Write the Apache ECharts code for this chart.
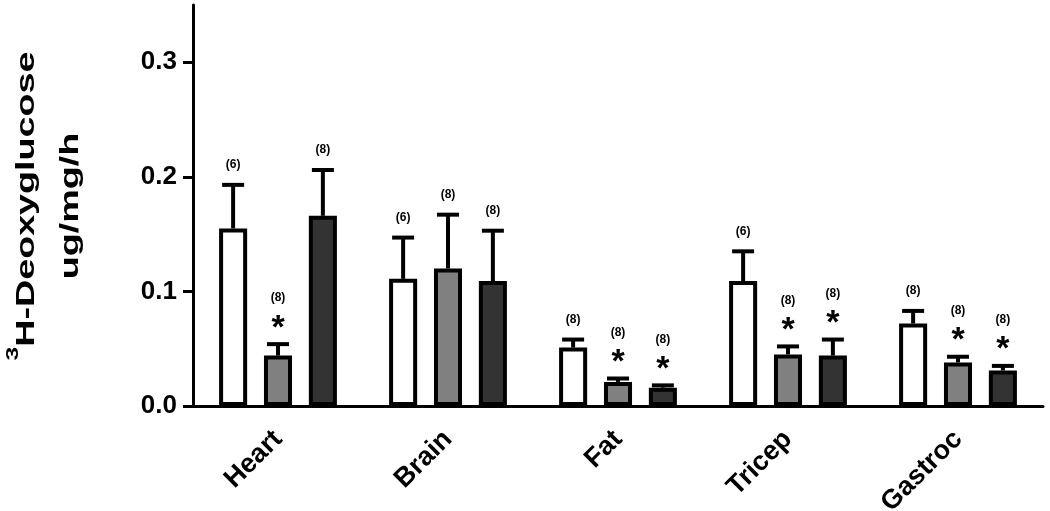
<!DOCTYPE html>
<html>
<head>
<meta charset="utf-8">
<script src="https://cdn.jsdelivr.net/npm/echarts@6/dist/echarts.min.js"></script>
<style>
  html, body { margin: 0; padding: 0; background: #fff; }
  #main { width: 1050px; height: 511px; }
</style>
</head>
<body>
<div id="main"></div>
<script>
    // tissues
    var categories = ['Heart', 'Brain', 'Fat', 'Tricep', 'Gastroc'];
    var yTicks = [0, 0.1, 0.2, 0.3];

    // group 1 (white)
    var meanA = [0.155, 0.111, 0.051, 0.109, 0.072];
    var upperA = [0.193, 0.147, 0.058, 0.135, 0.083];
    var nA = [6, 6, 8, 6, 8];
    var starA = [0, 0, 0, 0, 0];

    // group 2 (grey)
    var meanB = [0.044, 0.120, 0.021, 0.045, 0.038];
    var upperB = [0.054, 0.167, 0.024, 0.052, 0.043];
    var nB = [8, 8, 8, 8, 8];
    var starB = [1, 0, 1, 1, 1];

    // group 3 (dark)
    var meanC = [0.166, 0.109, 0.016, 0.044, 0.031];
    var upperC = [0.206, 0.153, 0.018, 0.058, 0.035];
    var nC = [8, 8, 8, 8, 8];
    var starC = [0, 0, 1, 1, 1];

    var FONT = '"Liberation Sans", Arial, sans-serif';
    var BAR_W = 0.165, BAR_GAP = 0.60;

    function barSeries(data, color) {
        return {
            type: 'bar',
            data: data,
            barWidth: (BAR_W * 100) + '%',
            barGap: (BAR_GAP * 100) + '%',
            itemStyle: {
                color: color,
                borderColor: '#000',
                borderWidth: 4
            },
            z: 2
        };
    }

    // error bar + (n) + asterisk
    function errSeries(k, mean, upper, n, star) {
        var rows = [];
        for (var i = 0; i < categories.length; i++) {
            rows.push([i, mean[i], upper[i], n[i], star[i]]);
        }
        return {
            type: 'custom',
            data: rows,
            z: 3,
            renderItem: function (params, api) {
                var band = api.size([1, 0])[0];
                var dx = (k - 1) * band * BAR_W * (1 + BAR_GAP);
                var top = api.coord([api.value(0), api.value(2)]);
                var base = api.coord([api.value(0), api.value(1)]);
                var x = top[0] + dx;
                var children = [
                    { type: 'line', shape: { x1: x, y1: base[1], x2: x, y2: top[1] },
                      style: { stroke: '#000', lineWidth: 4 } },
                    { type: 'line', shape: { x1: x - 11, y1: top[1], x2: x + 11, y2: top[1] },
                      style: { stroke: '#000', lineWidth: 4 } }
                ];
                var ly = top[1] - 20;
                if (api.value(4)) {
                    children.push({ type: 'text', style: {
                        text: '*', x: x, y: top[1] - 16, align: 'center', verticalAlign: 'middle',
                        fill: '#000', font: 'bold 34px ' + FONT } });
                    ly = top[1] - 46;
                }
                children.push({ type: 'text', style: {
                    text: '(' + api.value(3) + ')', x: x, y: ly, align: 'center', verticalAlign: 'middle',
                    fill: '#000', font: 'bold 12px ' + FONT } });
                return { type: 'group', children: children };
            }
        };
    }

    var chart = echarts.init(document.getElementById('main'));
    chart.setOption({
        animation: false,
        grid: { left: 193, right: 7, top: 5, bottom: 105, containLabel: false, outerBoundsMode: 'none' },
        // y axis title, stretched along its length like the original
        graphic: [{
            type: 'text',
            x: 49, y: 206,
            rotation: Math.PI / 2,
            scaleX: 1.45,
            style: {
                text: '{sup|3}H-Deoxyglucose\nug/mg/h',
                align: 'center', verticalAlign: 'middle',
                fill: '#000',
                font: 'bold 26px ' + FONT,
                lineHeight: 44,
                rich: {
                    sup: { font: 'bold 17px ' + FONT, fill: '#000', verticalAlign: 'top', lineHeight: 44 }
                }
            }
        }],
        xAxis: {
            type: 'category',
            data: categories,
            axisLine: { lineStyle: { color: '#000', width: 3 } },
            axisTick: { alignWithLabel: true, length: 10, lineStyle: { color: '#000', width: 3 } },
            axisLabel: {
                rotate: 45, margin: 29, color: '#000',
                fontSize: 27, fontWeight: 'bold', fontFamily: FONT
            }
        },
        yAxis: {
            type: 'value',
            min: 0, max: 0.35, interval: 0.1,
            splitLine: { show: false },
            axisLine: { show: true, lineStyle: { color: '#000', width: 3 } },
            axisTick: { show: true, length: 10, customValues: yTicks, lineStyle: { color: '#000', width: 3 } },
            axisLabel: {
                customValues: yTicks, margin: 16, color: '#000',
                fontSize: 26, fontWeight: 'bold', fontFamily: FONT,
                formatter: function (v) { return v.toFixed(1); }
            }
        },
        series: [
            barSeries(meanA, '#ffffff'),
            barSeries(meanB, '#808080'),
            barSeries(meanC, '#333333'),
            errSeries(0, meanA, upperA, nA, starA),
            errSeries(1, meanB, upperB, nB, starB),
            errSeries(2, meanC, upperC, nC, starC)
        ]
    });
</script>
</body>
</html>
